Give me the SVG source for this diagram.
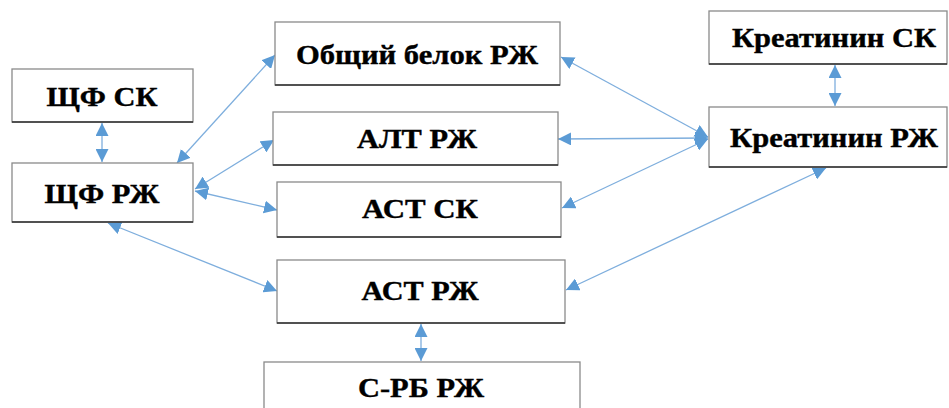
<svg xmlns="http://www.w3.org/2000/svg" width="949" height="408" viewBox="0 0 949 408">
<style>
.box{fill:#fff;stroke:#8a8a8a;stroke-width:1.3}
.btm{stroke:#303030;stroke-width:1.3}
.lbl{font-family:'Liberation Serif','Times New Roman',serif;font-weight:bold;font-size:28px;fill:#000;stroke:#000;stroke-width:0.4;text-anchor:middle}
.con{stroke:#7eaedd;stroke-width:1.3;fill:none;marker-start:url(#ah);marker-end:url(#ah)}
</style>
<defs>
<marker id="ah" markerUnits="userSpaceOnUse" markerWidth="13" markerHeight="13" viewBox="0 0 13 13" refX="13" refY="6.5" orient="auto-start-reverse">
<path d="M0,0 L13,6.5 L0,13 Z" fill="#5b9bd5"/>
</marker>
</defs>
<rect width="949" height="408" fill="#fff"/>
<g id="connectors">
<line class="con" x1="102" y1="123" x2="102" y2="162"/>
<line class="con" x1="835" y1="65" x2="835" y2="106"/>
<line class="con" x1="421" y1="324" x2="421" y2="361"/>
<line class="con" x1="177" y1="163" x2="275" y2="55"/>
<line class="con" x1="195" y1="189" x2="274" y2="140"/>
<line class="con" x1="195" y1="191" x2="277" y2="210"/>
<line class="con" x1="108" y1="223" x2="277" y2="291"/>
<line class="con" x1="561" y1="57" x2="708" y2="137"/>
<line class="con" x1="558" y1="139" x2="708" y2="138"/>
<line class="con" x1="562" y1="208" x2="708" y2="139"/>
<line class="con" x1="826" y1="168" x2="566" y2="290"/>
</g>
<g id="n_shf_sk"><rect class="box" x="12" y="69" width="181" height="53"/><line class="btm" x1="12" y1="122" x2="193" y2="122"/><text class="lbl" x="102" y="106" textLength="111" lengthAdjust="spacingAndGlyphs">ЩФ СК</text></g>
<g id="n_shf_rzh"><rect class="box" x="12" y="163" width="181" height="59"/><line class="btm" x1="12" y1="222" x2="193" y2="222"/><text class="lbl" x="102" y="203" textLength="115" lengthAdjust="spacingAndGlyphs">ЩФ РЖ</text></g>
<g id="n_obshchiy"><rect class="box" x="275" y="22" width="285" height="63"/><line class="btm" x1="275" y1="85" x2="560" y2="85"/><text class="lbl" x="417" y="64" textLength="242" lengthAdjust="spacingAndGlyphs">Общий белок РЖ</text></g>
<g id="n_alt"><rect class="box" x="273" y="112" width="285" height="53"/><line class="btm" x1="273" y1="165" x2="558" y2="165"/><text class="lbl" x="417" y="148" textLength="120" lengthAdjust="spacingAndGlyphs">АЛТ РЖ</text></g>
<g id="n_ast_sk"><rect class="box" x="277" y="182" width="284" height="55"/><line class="btm" x1="277" y1="237" x2="561" y2="237"/><text class="lbl" x="420" y="218" textLength="116" lengthAdjust="spacingAndGlyphs">АСТ СК</text></g>
<g id="n_kreat_sk"><rect class="box" x="709" y="11" width="238" height="53"/><line class="btm" x1="709" y1="64" x2="947" y2="64"/><text class="lbl" x="834" y="47" textLength="204" lengthAdjust="spacingAndGlyphs">Креатинин СК</text></g>
<g id="n_kreat_rzh"><rect class="box" x="709" y="107" width="238" height="60"/><line class="btm" x1="709" y1="167" x2="947" y2="167"/><text class="lbl" x="834" y="147" textLength="208" lengthAdjust="spacingAndGlyphs">Креатинин РЖ</text></g>
<g id="n_ast_rzh"><rect class="box" x="277" y="260" width="288" height="63"/><line class="btm" x1="277" y1="323" x2="565" y2="323"/><text class="lbl" x="420" y="300" textLength="117" lengthAdjust="spacingAndGlyphs">АСТ РЖ</text></g>
<g id="n_srb"><rect class="box" x="264" y="362" width="316" height="60"/><text class="lbl" x="421" y="397" textLength="126" lengthAdjust="spacingAndGlyphs">С-РБ РЖ</text></g>
</svg>
